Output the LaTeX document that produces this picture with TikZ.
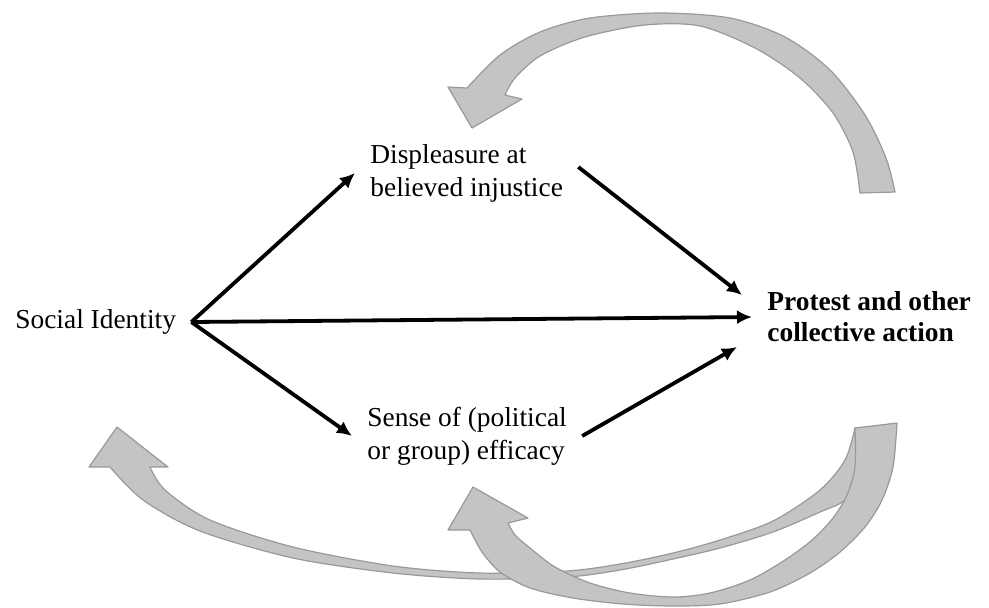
\documentclass[tikz,border=0pt]{standalone}
\usepackage{fontspec}
\setmainfont{Liberation Serif}
\usetikzlibrary{arrows.meta}

\begin{document}
\begin{tikzpicture}[x=0.5pt,y=-0.5pt,
    txt/.style={font=\fontsize{13.7}{16.5}\selectfont, align=left, inner xsep=7.5pt, inner ysep=2pt},
    link/.style={line width=1.9pt, -{Latex[length=7.5pt,width=7pt]}},
    ribbon/.style={fill=black!23, draw=black!40, line width=0.6pt, line join=round}]

    \useasboundingbox (0,0) rectangle (989,607);

    %feedback arrows
    \filldraw[ribbon] plot[smooth] coordinates {(467,88) (500,55) (540,32) (590,18) (660,13) (730,18) (785,37) (830,70) (865,115) (886,158) (895,192)}
        -- plot[smooth] coordinates {(860,193) (853,152) (833,113) (800,78) (755,48) (700,26) (645,25) (585,37) (540,56) (515,78) (505,95)}
        -- (522,99) -- (472,128) -- (448,87) -- cycle;
    \filldraw[ribbon] plot[smooth] coordinates {(150,467) (165,490) (210,520) (293,547) (393,566) (480,573) (567,571) (620,564) (673,553) (720,540) (773,521) (820,490) (845,460) (855,428)}
        -- plot[smooth] coordinates {(880,427) (870,470) (845,500) (820,512) (773,532) (720,548) (673,559) (620,570) (567,577) (480,579) (393,573) (293,558) (200,531) (143,500) (110,467)}
        -- (89,467) -- (117,427) -- (168,467) -- cycle;
    \filldraw[ribbon] plot[smooth] coordinates {(470,530) (482,552) (500,572) (530,588) (573,598) (623,604) (673,606) (720,604) (770,592) (810,573) (840,552) (865,527) (882,500) (893,467) (897,423)}
        -- plot[smooth] coordinates {(855,428) (855,467) (847,495) (833,518) (812,540) (785,560) (750,580) (710,593) (673,597) (630,593) (590,583) (555,567) (530,548) (515,535) (508,523)}
        -- (528,518) -- (473,487) -- (448,530) -- cycle;

    %nodes
    \node[txt, anchor=west] (soc) at (0,322) {Social Identity};
    \node[txt, anchor=west] (disp) at (355,173) {Displeasure at\\believed injustice};
    \node[txt, anchor=west] (eff) at (352,436) {Sense of (political\\or group) efficacy};
    \node[txt, anchor=west, font=\fontsize{13.7}{15.5}\selectfont\bfseries] (prot) at (752,317) {Protest and other\\collective action};

    %paths
    \foreach \t in {disp,eff,prot}
        \draw[link] (soc.east) -- (\t.west);
    \draw[link] ([yshift=3pt]disp.east) -- ([xshift=-5pt,yshift=11pt]prot.west);
    \draw[link] (eff.east) -- ([xshift=-7.5pt,yshift=-15pt]prot.west);
\end{tikzpicture}
\end{document}
